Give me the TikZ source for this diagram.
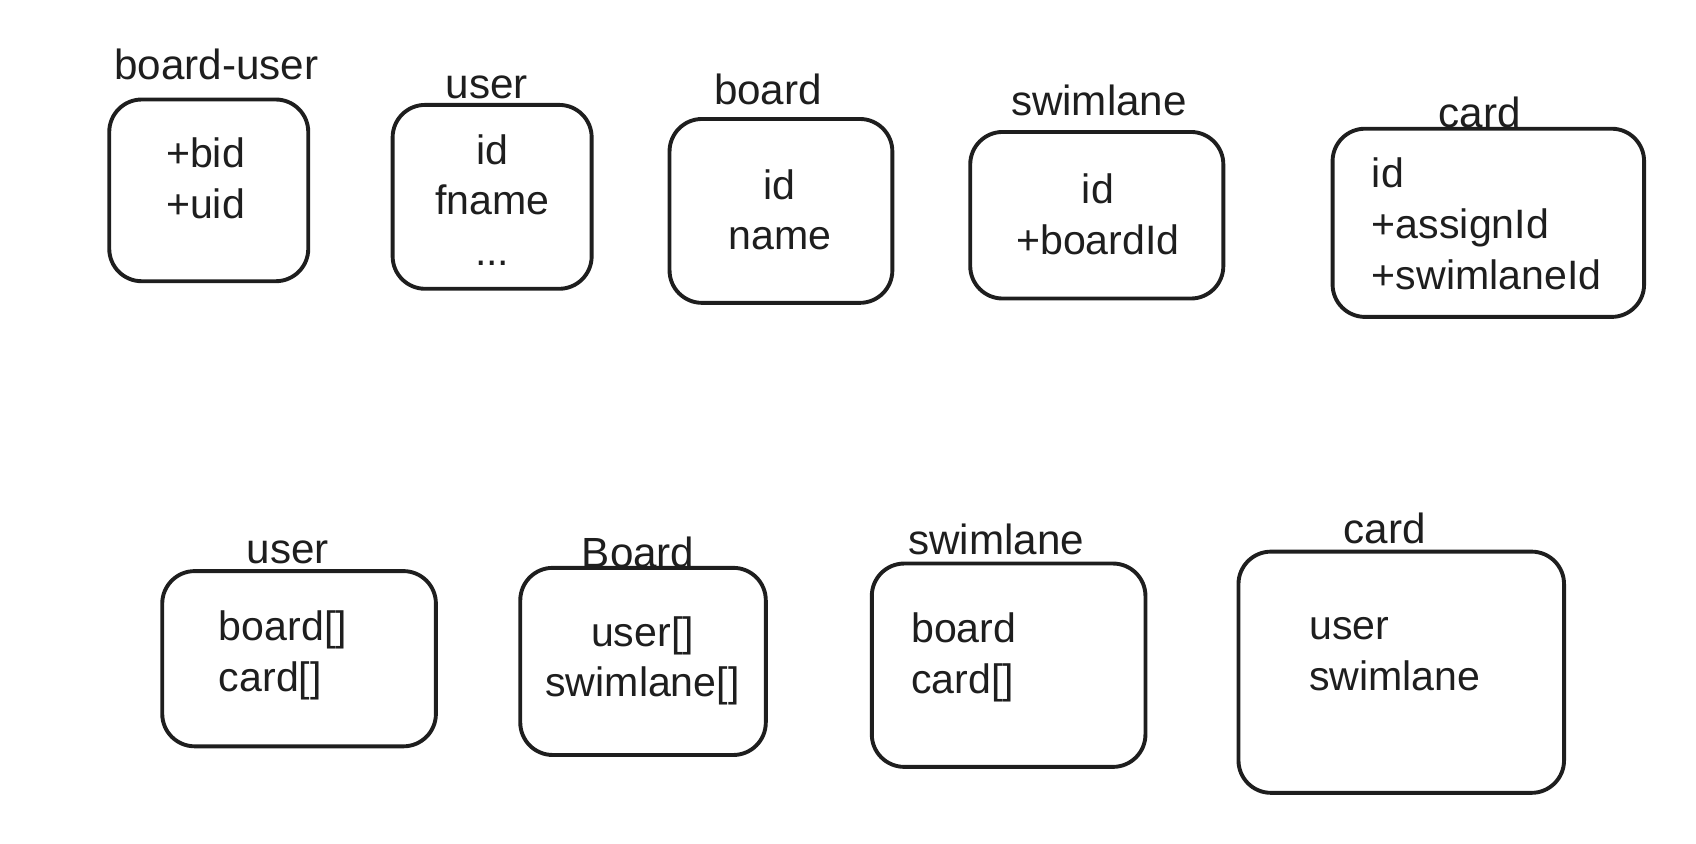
\documentclass[tikz,border=0pt]{standalone}
\usepackage{fontspec}
\setmainfont{Liberation Sans}
\definecolor{ink}{HTML}{1E1E1E}
\begin{document}
\begin{tikzpicture}[x=0.5pt,y=-0.5pt,
  entity/.style={draw=ink,line width=1.8pt,rounded corners=15pt,inner sep=0pt},
  title/.style={text=ink,font=\fontsize{19.5}{23}\selectfont,inner sep=0pt},
  fields/.style={text=ink,font=\fontsize{19}{23.5}\selectfont,inner sep=0pt},
]
\useasboundingbox (0,0) rectangle (1568,780);
% top row
\node[entity,minimum width=92pt,minimum height=84pt] (bu) at (193,176) {};
\node[entity,minimum width=92pt,minimum height=85pt] (u1) at (455,182) {};
\node[entity,minimum width=103pt,minimum height=85pt] (b1) at (722,195) {};
\node[entity,minimum width=117pt,minimum height=77pt] (s1) at (1014,199) {};
\node[entity,minimum width=144pt,minimum height=87pt] (c1) at (1376,206) {};
% bottom row
\node[entity,minimum width=126.5pt,minimum height=81pt] (u2) at (276.5,609) {};
\node[entity,minimum width=113.5pt,minimum height=86.5pt] (b2) at (594.5,611.5) {};
\node[entity,minimum width=126.5pt,minimum height=94pt] (s2) at (932.5,615) {};
\node[entity,minimum width=150.5pt,minimum height=111.5pt] (c2) at (1295.5,621.5) {};
% titles
\node[title] (tbu) at (200,60) {board-user};
\node[title] (tu1) at (450,81) {user};
\node[title] (tb1) at (710,83) {board};
\node[title] (ts1) at (1016,93) {swimlane};
\node[title] (tc1) at (1368,104) {card};
\node[title] (tu2) at (266,511) {user};
\node[title] (tb2) at (590,511) {Board};
\node[title] (ts2) at (921,499) {swimlane};
\node[title] (tc2) at (1280,489) {card};
% fields
\node[fields,align=left] (fbu) at (190,165) {+bid\\+uid};
\node[fields,align=center] (fu1) at (455,185) {id\\fname\\...};
\node[fields,align=center] (fb1) at (721,194) {id\\name};
\node[fields,align=center] (fs1) at (1015,198) {id\\+boardId};
\node[fields,align=left,anchor=west] (fc1) at (1268,207) {id\\+assignId\\+swimlaneId};
\node[fields,align=left,anchor=west] (fu2) at (202,606) {board[]\\card[]};
\node[fields,align=center] (fb2) at (594,611) {user[]\\swimlane[]};
\node[fields,align=left,anchor=west] (fs2) at (842,608) {board\\card[]};
\node[fields,align=left,anchor=west] (fc2) at (1210,605) {user\\swimlane};
\end{tikzpicture}
\end{document}
